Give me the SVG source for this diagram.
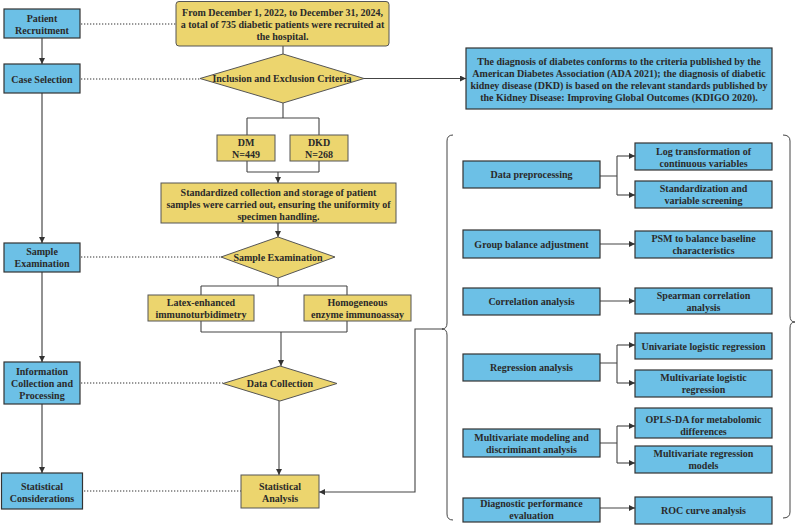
<svg xmlns="http://www.w3.org/2000/svg" width="798" height="525" viewBox="0 0 798 525">
<defs>
<marker id="ah" viewBox="0 0 10 10" refX="10" refY="5" markerWidth="6" markerHeight="6" markerUnits="userSpaceOnUse" orient="auto">
<path d="M0,0 L10,5 L0,10 z" fill="#333"/>
</marker>
<style>
text{font-family:"Liberation Serif","Times New Roman",serif;font-weight:bold;font-size:10px;fill:#2a2a2a;text-anchor:middle}
.b{fill:#6cc0e6;stroke:#333;stroke-width:1.2}
.y{fill:#ecd56e;stroke:#555;stroke-width:1}
.ln{fill:none;stroke:#444;stroke-width:1.1}
.gl{fill:none;stroke:#777;stroke-width:1.6}
.dt{fill:none;stroke:#333;stroke-width:1.2;stroke-dasharray:1.3 1.7}
.br{fill:none;stroke:#444;stroke-width:1}
</style>
</defs>
<rect width="798" height="525" fill="#fff"/>

<g id="connectors">
<!-- left column -->
<path class="gl" d="M42,38 V64" marker-end="url(#ah)"/>
<path class="gl" d="M42,93 V243" marker-end="url(#ah)"/>
<path class="gl" d="M42,272 V362" marker-end="url(#ah)"/>
<path class="gl" d="M42,404 V473" marker-end="url(#ah)"/>
<!-- dotted -->
<path class="dt" d="M81,24 H176"/>
<path class="dt" d="M81,79 H200"/>
<path class="dt" d="M81,257 H221"/>
<path class="dt" d="M81,383 H223"/>
<path class="dt" d="M84,491 H241"/>
<!-- center -->
<path class="ln" d="M283,46 V54"/>
<path class="ln" d="M364,78.5 H466" marker-end="url(#ah)"/>
<path class="ln" d="M283,103 V118 M247,118 H319 M247,118 V135 M319,118 V135"/>
<path class="ln" d="M247,161 V172 M319,161 V172 M247,172 H319"/>
<path class="ln" d="M278,172 V183" marker-end="url(#ah)"/>
<path class="ln" d="M278,223 V237" marker-end="url(#ah)"/>
<path class="ln" d="M278,278 V286 M201,286 H347 M201,286 V295 M347,286 V295"/>
<path class="ln" d="M201,321 V332 M347,321 V332 M201,332 H347"/>
<path class="ln" d="M281,332 V366" marker-end="url(#ah)"/>
<path class="ln" d="M279,401 V475" marker-end="url(#ah)"/>
<path class="ln" d="M443,329 H415 V492 H319" marker-end="url(#ah)"/>
<!-- right panel -->
<path class="ln" d="M600,176 H617 M617,156 V195"/>
<path class="ln" d="M617,156 H635" marker-end="url(#ah)"/>
<path class="ln" d="M617,195 H635" marker-end="url(#ah)"/>
<path class="ln" d="M600,244 H635" marker-end="url(#ah)"/>
<path class="ln" d="M600,301 H635" marker-end="url(#ah)"/>
<path class="ln" d="M600,363 H617 M617,345 V383"/>
<path class="ln" d="M617,345 H635" marker-end="url(#ah)"/>
<path class="ln" d="M617,383 H635" marker-end="url(#ah)"/>
<path class="ln" d="M600,443 H617 M617,426 V463"/>
<path class="ln" d="M617,426 H635" marker-end="url(#ah)"/>
<path class="ln" d="M617,463 H635" marker-end="url(#ah)"/>
<path class="ln" d="M600,508 H635" marker-end="url(#ah)"/>
</g>

<g id="braces">
<path class="br" d="M453,135 Q447,135 447,141 V323 Q447,329 442,329 Q447,329 447,335 V514 Q447,520 453,520"/>
<path class="br" d="M783,135 Q790,135 790,141 V316 Q790,322 795,322 Q790,322 790,328 V512 Q790,518 783,518"/>
</g>

<!-- left stages -->
<g id="patient-recruitment"><rect class="b" x="4" y="9" width="76" height="29"/><text x="42" y="21.5">Patient</text><text x="42" y="34">Recruitment</text></g>
<g id="case-selection"><rect class="b" x="4" y="64" width="76" height="29"/><text x="42" y="82.5">Case Selection</text></g>
<g id="sample-examination-stage"><rect class="b" x="4" y="243" width="76" height="29"/><text x="42" y="255">Sample</text><text x="42" y="267">Examination</text></g>
<g id="information-collection"><rect class="b" x="4" y="362" width="76" height="42"/><text x="42" y="375">Information</text><text x="42" y="387">Collection and</text><text x="42" y="399">Processing</text></g>
<g id="statistical-considerations"><rect class="b" x="1.5" y="473" width="81" height="36"/><text x="42" y="490">Statistical</text><text x="42" y="502">Considerations</text></g>

<!-- center flow -->
<g id="recruitment"><rect class="y" x="176" y="1.5" width="213" height="44.5" rx="3"/><text x="282.5" y="16">From December 1, 2022, to December 31, 2024,</text><text x="282.5" y="28">a total of 735 diabetic patients were recruited at</text><text x="282.5" y="40">the hospital.</text></g>
<g id="criteria"><polygon class="y" points="200,78.5 283,54 364,78.5 283,103"/><text x="282" y="82">Inclusion and Exclusion Criteria</text></g>
<g id="dm"><rect class="y" x="217" y="135" width="58" height="26"/><text x="246" y="146">DM</text><text x="246" y="158">N=449</text></g>
<g id="dkd"><rect class="y" x="290" y="135" width="58" height="26"/><text x="319" y="146">DKD</text><text x="319" y="158">N=268</text></g>
<g id="standardized"><rect class="y" x="161" y="183" width="235" height="40"/><text x="278.5" y="196">Standardized collection and storage of patient</text><text x="278.5" y="208">samples were carried out, ensuring the uniformity of</text><text x="278.5" y="220">specimen handling.</text></g>
<g id="sample-examination"><polygon class="y" points="221,257 278,237 335,257 278,278"/><text x="278" y="261">Sample Examination</text></g>
<g id="latex"><rect class="y" x="148" y="295" width="106" height="26"/><text x="201" y="306">Latex-enhanced</text><text x="201" y="318">immunoturbidimetry</text></g>
<g id="homogeneous"><rect class="y" x="304" y="295" width="107" height="26"/><text x="357.5" y="306">Homogeneous</text><text x="357.5" y="318">enzyme immunoassay</text></g>
<g id="data-collection"><polygon class="y" points="223,383.5 280,366 337,383.5 280,401"/><text x="280" y="387">Data Collection</text></g>
<g id="statistical-analysis"><rect class="y" x="241" y="475" width="78" height="33"/><text x="280" y="490">Statistical</text><text x="280" y="502">Analysis</text></g>

<g id="diagnosis-criteria"><rect class="b" x="466" y="48" width="306" height="61"/><text x="619" y="65">The diagnosis of diabetes conforms to the criteria published by the</text><text x="619" y="77">American Diabetes Association (ADA 2021); the diagnosis of diabetic</text><text x="619" y="89">kidney disease (DKD) is based on the relevant standards published by</text><text x="619" y="101">the Kidney Disease: Improving Global Outcomes (KDIGO 2020).</text></g>

<!-- right panel -->
<g id="data-preprocessing"><rect class="b" x="463" y="161" width="137" height="27"/><text x="531.5" y="178">Data preprocessing</text></g>
<g id="log-transformation"><rect class="b" x="635" y="143" width="137" height="27"/><text x="703.5" y="155">Log transformation of</text><text x="703.5" y="167">continuous variables</text></g>
<g id="standardization"><rect class="b" x="635" y="181" width="137" height="27"/><text x="703.5" y="192">Standardization and</text><text x="703.5" y="204">variable screening</text></g>
<g id="group-balance"><rect class="b" x="463" y="230" width="137" height="28"/><text x="531.5" y="248">Group balance adjustment</text></g>
<g id="psm"><rect class="b" x="635" y="231" width="137" height="27"/><text x="703.5" y="242">PSM to balance baseline</text><text x="703.5" y="254">characteristics</text></g>
<g id="correlation"><rect class="b" x="463" y="288" width="137" height="27"/><text x="531.5" y="305">Correlation analysis</text></g>
<g id="spearman"><rect class="b" x="635" y="288" width="137" height="26"/><text x="703.5" y="299">Spearman correlation</text><text x="703.5" y="311">analysis</text></g>
<g id="regression"><rect class="b" x="463" y="354" width="137" height="27"/><text x="531.5" y="371">Regression analysis</text></g>
<g id="univariate"><rect class="b" x="635" y="333" width="137" height="26"/><text x="703.5" y="350">Univariate logistic regression</text></g>
<g id="multivariate-logistic"><rect class="b" x="635" y="370" width="137" height="27"/><text x="703.5" y="381">Multivariate logistic</text><text x="703.5" y="393">regression</text></g>
<g id="multivariate-modeling"><rect class="b" x="463" y="429" width="137" height="28"/><text x="531.5" y="441">Multivariate modeling and</text><text x="531.5" y="453">discriminant analysis</text></g>
<g id="opls-da"><rect class="b" x="635" y="408" width="137" height="30"/><text x="703.5" y="423">OPLS-DA for metabolomic</text><text x="703.5" y="435">differences</text></g>
<g id="multivariate-regression"><rect class="b" x="635" y="446" width="137" height="27"/><text x="703.5" y="457">Multivariate regression</text><text x="703.5" y="469">models</text></g>
<g id="diagnostic"><rect class="b" x="463" y="498" width="137" height="24"/><text x="531.5" y="507">Diagnostic performance</text><text x="531.5" y="519">evaluation</text></g>
<g id="roc"><rect class="b" x="635" y="497" width="137" height="27"/><text x="703.5" y="514">ROC curve analysis</text></g>
</svg>
